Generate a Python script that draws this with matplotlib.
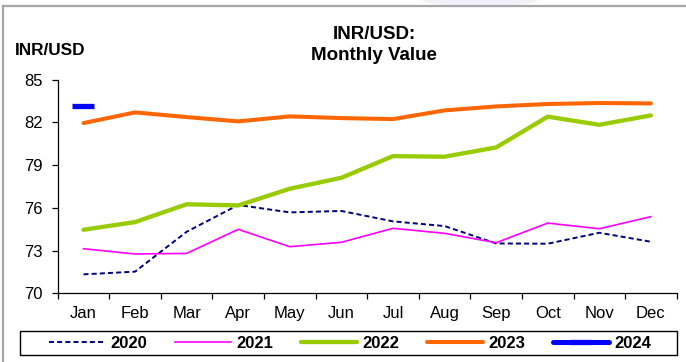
import numpy as np
import matplotlib as mpl
mpl.use('Agg')
import matplotlib.pyplot as plt
from matplotlib.lines import Line2D
from matplotlib.patches import Rectangle, Ellipse

mpl.rcParams['font.family'] = ['Liberation Sans', 'DejaVu Sans']

months = ['Jan', 'Feb', 'Mar', 'Apr', 'May', 'Jun',
          'Jul', 'Aug', 'Sep', 'Oct', 'Nov', 'Dec']

inr_2020 = [71.33, 71.52, 74.32, 76.20, 75.68, 75.78,
            75.05, 74.72, 73.50, 73.48, 74.25, 73.62]
inr_2021 = [73.13, 72.76, 72.80, 74.49, 73.27, 73.58,
            74.56, 74.21, 73.55, 74.93, 74.53, 75.38]
inr_2022 = [74.46, 75.00, 76.25, 76.17, 77.34, 78.11,
            79.63, 79.59, 80.24, 82.40, 81.83, 82.49]
inr_2023 = [81.95, 82.70, 82.37, 82.07, 82.42, 82.30,
            82.23, 82.84, 83.12, 83.29, 83.36, 83.33]
inr_2024 = [83.14]

yticks = [70, 73, 76, 79, 82, 85]

fig = plt.figure(figsize=(6.86, 3.62), dpi=100)
ax = fig.add_axes([0.0841, 0.1898, 0.9023, 0.5902])

x = np.arange(len(months))

ax.plot(x, inr_2020, color='#000080', lw=1.4, ls=(0, (2.6, 1.6)), label='2020')
ax.plot(x, inr_2021, color='#FF00FF', lw=1.2, label='2021')
ax.plot(x, inr_2022, color='#99CC00', lw=3.1, solid_capstyle='round', label='2022')
ax.plot(x, inr_2023, color='#FF6600', lw=2.9, solid_capstyle='round', label='2023')
ax.plot(x[:len(inr_2024)], inr_2024, color='#0000FF', lw=3.6,
        solid_capstyle='round', marker='_', ms=16, mew=3.8, label='2024')

ax.set_xlim(-0.5, 11.5)
ax.set_ylim(70, 85)
ax.set_yticks(yticks)
ax.set_xticks(x)
ax.set_xticklabels(months)
ax.set_xticks(np.arange(-0.5, 12, 1), minor=True)
ax.tick_params(axis='x', which='major', length=0, pad=9, labelsize=12)
ax.tick_params(axis='x', which='minor', length=4, width=0.9, direction='out')
ax.tick_params(axis='y', length=4.5, width=0.9, pad=6, labelsize=12)

for s in ['top', 'right']:
    ax.spines[s].set_visible(False)
for s in ['left', 'bottom']:
    ax.spines[s].set_linewidth(0.9)

# titles
fig.text(374 / 686, 1 - 39.3 / 362, 'INR/USD:', ha='center', va='baseline',
         fontsize=13.5, fontweight='bold')
fig.text(374 / 686, 1 - 59.5 / 362, 'Monthly Value', ha='center', va='baseline',
         fontsize=13.5, fontweight='bold')
fig.text(15 / 686, 1 - 55 / 362, 'INR/USD', ha='left', va='baseline',
         fontsize=12.4, fontweight='bold')

# outer frame and faint logo at the top edge
fig.add_artist(Ellipse((480 / 686, 1.0), 116 / 686, 12 / 362,
                       transform=fig.transFigure, color='#f1f1fa', lw=0, zorder=-2))
fig.add_artist(Line2D([3.3 / 686, 1], [1 - 5.5 / 362, 1 - 5.5 / 362],
                      transform=fig.transFigure, color='#a6a6a6', lw=1.6))
fig.add_artist(Line2D([3.3 / 686, 3.3 / 686], [0, 1 - 5.5 / 362],
                      transform=fig.transFigure, color='#a6a6a6', lw=1.6))

# legend box
fig.add_artist(Rectangle((20 / 686, 1 - 355 / 362), 657 / 686, 24 / 362,
                         transform=fig.transFigure, fill=False, ec='black', lw=1.0))
leg = fig.legend(loc='center', bbox_to_anchor=(350 / 686, 1 - 343 / 362), ncol=5,
                 frameon=False, handlelength=3.4, handletextpad=0.3,
                 columnspacing=1.65, numpoints=1,
                 prop={'weight': 'bold', 'size': 12})

fig.savefig('out.png', dpi=100)
